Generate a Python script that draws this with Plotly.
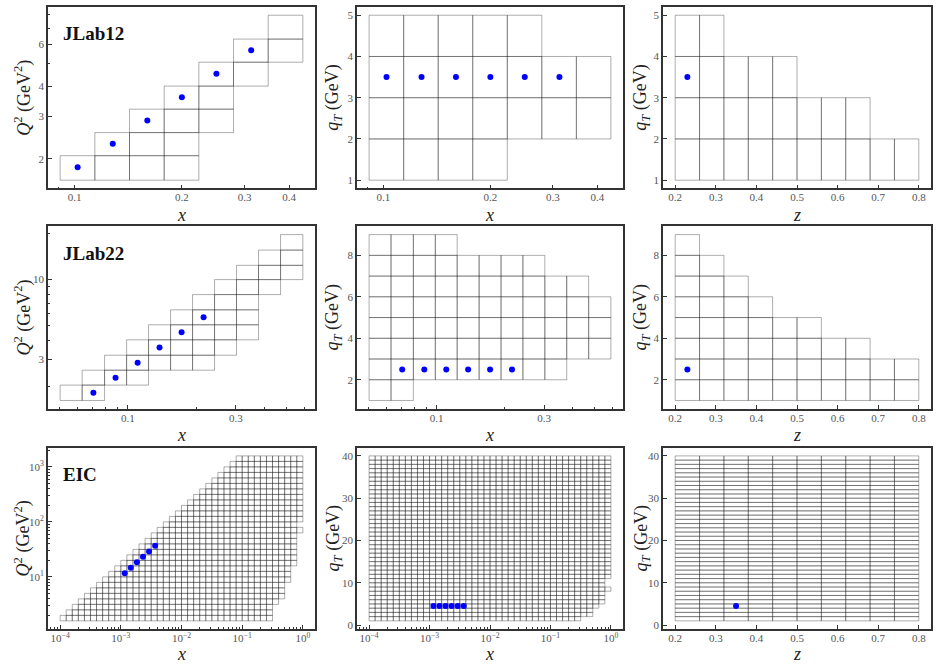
import math
import plotly.graph_objects as go

# ---------------- data ----------------
# JLab12
jl12_x_edges = [0.0911, 0.1140, 0.1426, 0.1784, 0.2232, 0.2792, 0.3493, 0.4370]
jl12_q2_edges = [1.626, 2.058, 2.570, 3.220, 4.020, 5.060, 6.320, 7.950]
jl12_qt_edges = [1, 2, 3, 4, 5]
z_edges = [0.20, 0.26, 0.32, 0.38, 0.44, 0.50, 0.56, 0.62, 0.68, 0.74, 0.80]
jl12_xq2_bottom = [0, 0, 0, 0, 2, 4, 5]
jl12_xq2_top = [1, 2, 3, 4, 5, 6, 7]
jl12_xqt_bottom = [0, 0, 0, 0, 1, 1, 1]
jl12_xqt_top = [4, 4, 4, 4, 4, 3, 3]
jl12_zqt_bottom = [0, 0, 0, 0, 0, 0, 0, 0, 0, 0]
jl12_zqt_top = [4, 4, 3, 3, 3, 2, 2, 2, 1, 1]
jl12_pts_x = [0.102, 0.128, 0.160, 0.200, 0.250, 0.313]
jl12_pts_q2 = [1.84, 2.31, 2.89, 3.61, 4.53, 5.67]
jl12_pts_qt = [3.5, 3.5, 3.5, 3.5, 3.5, 3.5]
jl12_pt_z = [0.23]
jl12_pt_zqt = [3.5]

# JLab22
jl22_x_edges = [0.0502, 0.0628, 0.0789, 0.0987, 0.1234, 0.1544, 0.1931, 0.2415,
                0.3020, 0.3777, 0.4726, 0.5930]
jl22_q2_edges = [1.618, 2.040, 2.554, 3.200, 4.036, 5.060, 6.340, 7.980,
                 10.00, 12.40, 15.60, 19.70]
jl22_qt_edges = [1, 2, 3, 4, 5, 6, 7, 8, 9]
jl22_xq2_bottom = [0, 0, 1, 1, 2, 2, 2, 3, 4, 7, 8]
jl22_xq2_top = [1, 2, 3, 4, 5, 6, 7, 8, 9, 10, 11]
jl22_xqt_bottom = [0, 0, 1, 1, 1, 1, 1, 1, 1, 2, 2]
jl22_xqt_top = [8, 8, 8, 8, 7, 7, 7, 7, 6, 6, 5]
jl22_zqt_bottom = [0, 0, 0, 0, 0, 0, 0, 0, 0, 0]
jl22_zqt_top = [8, 7, 6, 5, 4, 4, 3, 3, 2, 2]
jl22_pts_x = [0.0704, 0.0882, 0.1104, 0.1380, 0.1727, 0.2160]
jl22_pts_q2 = [1.817, 2.283, 2.859, 3.594, 4.519, 5.664]
jl22_pts_qt = [2.5, 2.5, 2.5, 2.5, 2.5, 2.5]
jl22_pt_z = [0.23]
jl22_pt_zqt = [2.5]

# EIC
eic_x_edges = [1.000e-4, 1.259e-4, 1.585e-4, 1.995e-4, 2.512e-4, 3.162e-4, 3.981e-4, 5.012e-4, 6.310e-4, 7.943e-4,
               1.000e-3, 1.259e-3, 1.585e-3, 1.995e-3, 2.512e-3, 3.162e-3, 3.981e-3, 5.012e-3, 6.310e-3, 7.943e-3,
               1.000e-2, 1.259e-2, 1.585e-2, 1.995e-2, 2.512e-2, 3.162e-2, 3.981e-2, 5.012e-2, 6.310e-2, 7.943e-2,
               1.000e-1, 1.259e-1, 1.585e-1, 1.995e-1, 2.512e-1, 3.162e-1, 3.981e-1, 5.012e-1, 6.310e-1, 7.943e-1,
               1.000]
eic_q2_edges = [1.585, 1.995, 2.512, 3.162, 3.981, 5.012, 6.310, 7.943, 10.00, 12.59,
                15.85, 19.95, 25.12, 31.62, 39.81, 50.12, 63.10, 79.43, 100.0, 125.9,
                158.5, 199.5, 251.2, 316.2, 398.1, 501.2, 631.0, 794.3, 1000.0, 1259.0,
                1585.0]
eic_qt_edges = [1, 2, 3, 4, 5, 6, 7, 8, 9, 10, 11, 12, 13, 14, 15, 16, 17, 18, 19, 20,
                21, 22, 23, 24, 25, 26, 27, 28, 29, 30, 31, 32, 33, 34, 35, 36, 37, 38, 39, 40]
eic_xq2_bottom = [0] * 35 + [3, 4, 7, 10, 16]
eic_xq2_top = [1, 2, 3, 4, 5, 6, 7, 8, 9, 10, 11, 12, 13, 14, 15, 16, 17, 18, 19, 20,
               21, 22, 23, 24, 25, 26, 27, 28, 29, 30, 30, 30, 30, 30, 30, 30, 30, 30, 30, 30]
eic_xq2_gaps = [(39, 17)]
eic_xqt_bottom = [0] * 35 + [1, 1, 3, 4, 7]
eic_xqt_top = [39] * 40
eic_xqt_gaps = [(39, 8), (39, 9)]
eic_zqt_bottom = [0] * 10
eic_zqt_top = [39] * 10
eic_pts_x = [1.16e-3, 1.46e-3, 1.84e-3, 2.32e-3, 2.92e-3, 3.68e-3]
eic_pts_q2 = [11.6, 14.7, 18.4, 23.3, 29.0, 36.8]
eic_pts_qt = [4.5, 4.5, 4.5, 4.5, 4.5, 4.5]
eic_pt_z = [0.35]
eic_pt_zqt = [4.5]

# tick labels
jl12_x_ticks = [0.1, 0.2, 0.3, 0.4]
jl12_q2_ticks = [2, 3, 4, 6]
jl22_x_ticks = [0.1, 0.3]
jl22_q2_ticks = [3, 10]
eic_x_ticks = [1e-4, 1e-3, 1e-2, 1e-1, 1]
eic_x_ticktext = ["10<sup>−4</sup>", "10<sup>−3</sup>", "10<sup>−2</sup>", "10<sup>−1</sup>", "10<sup>0</sup>"]
eic_q2_ticks = [10, 100, 1000]
eic_q2_ticktext = ["10<sup>1</sup>", "10<sup>2</sup>", "10<sup>3</sup>"]
z_ticks = [0.2, 0.3, 0.4, 0.5, 0.6, 0.7, 0.8]

def minor_log(lo, hi):
    vals = []
    for d in range(-5, 5):
        for m in range(1, 10):
            v = m * 10 ** d
            if lo <= v <= hi:
                vals.append(v)
    return vals

panels = [
    dict(xe=jl12_x_edges, ye=jl12_q2_edges, bot=jl12_xq2_bottom, top=jl12_xq2_top, gaps=[],
         xlog=True, ylog=True, px=jl12_pts_x, py=jl12_pts_q2,
         xt=jl12_x_ticks, xtt=None, yt=jl12_q2_ticks, ytt=None, label="JLab12", xtitle="<i>x</i>", ytitle="Q2"),
    dict(xe=jl12_x_edges, ye=jl12_qt_edges, bot=jl12_xqt_bottom, top=jl12_xqt_top, gaps=[],
         xlog=True, ylog=False, px=jl12_pts_x, py=jl12_pts_qt,
         xt=jl12_x_ticks, xtt=None, yt=[1, 2, 3, 4, 5], ytt=None, xtitle="<i>x</i>", ytitle="qT"),
    dict(xe=z_edges, ye=jl12_qt_edges, bot=jl12_zqt_bottom, top=jl12_zqt_top, gaps=[],
         xlog=False, ylog=False, px=jl12_pt_z, py=jl12_pt_zqt,
         xt=z_ticks, xtt=None, yt=[1, 2, 3, 4, 5], ytt=None, xtitle="<i>z</i>", ytitle="qT"),
    dict(xe=jl22_x_edges, ye=jl22_q2_edges, bot=jl22_xq2_bottom, top=jl22_xq2_top, gaps=[],
         xlog=True, ylog=True, px=jl22_pts_x, py=jl22_pts_q2,
         xt=jl22_x_ticks, xtt=None, yt=jl22_q2_ticks, ytt=None, label="JLab22", xtitle="<i>x</i>", ytitle="Q2"),
    dict(xe=jl22_x_edges, ye=jl22_qt_edges, bot=jl22_xqt_bottom, top=jl22_xqt_top, gaps=[],
         xlog=True, ylog=False, px=jl22_pts_x, py=jl22_pts_qt,
         xt=jl22_x_ticks, xtt=None, yt=[2, 4, 6, 8], ytt=None, xtitle="<i>x</i>", ytitle="qT"),
    dict(xe=z_edges, ye=jl22_qt_edges, bot=jl22_zqt_bottom, top=jl22_zqt_top, gaps=[],
         xlog=False, ylog=False, px=jl22_pt_z, py=jl22_pt_zqt,
         xt=z_ticks, xtt=None, yt=[2, 4, 6, 8], ytt=None, xtitle="<i>z</i>", ytitle="qT"),
    dict(xe=eic_x_edges, ye=eic_q2_edges, bot=eic_xq2_bottom, top=eic_xq2_top, gaps=eic_xq2_gaps,
         xlog=True, ylog=True, px=eic_pts_x, py=eic_pts_q2,
         xt=eic_x_ticks, xtt=eic_x_ticktext, yt=eic_q2_ticks, ytt=eic_q2_ticktext, label="EIC",
         xtitle="<i>x</i>", ytitle="Q2"),
    dict(xe=eic_x_edges, ye=eic_qt_edges, bot=eic_xqt_bottom, top=eic_xqt_top, gaps=eic_xqt_gaps,
         xlog=True, ylog=False, px=eic_pts_x, py=eic_pts_qt,
         xt=eic_x_ticks, xtt=eic_x_ticktext, yt=[0, 10, 20, 30, 40], ytt=None, xtitle="<i>x</i>", ytitle="qT"),
    dict(xe=z_edges, ye=eic_qt_edges, bot=eic_zqt_bottom, top=eic_zqt_top, gaps=[],
         xlog=False, ylog=False, px=eic_pt_z, py=eic_pt_zqt,
         xt=z_ticks, xtt=None, yt=[0, 10, 20, 30, 40], ytt=None, xtitle="<i>z</i>", ytitle="qT"),
]

# ---------------- layout geometry ----------------
W, H = 938, 667
COL_PX = [(48, 315), (357, 623), (663, 931)]
ROW_PX = [(7, 189), (227, 410), (449, 631)]
XTITLE_Y = [216, 436, 656]
YTITLE_X = [23, 334, 642]

LINE = "rgba(0,0,0,0.32)"
FRAME = "#333333"
SERIF = "Liberation Serif"

def rng(vals, log):
    lo, hi = min(vals), max(vals)
    if log:
        lo, hi = math.log10(lo), math.log10(hi)
    pad = 0.05 * (hi - lo)
    return [lo - pad, hi + pad]

fig = go.Figure()
layout = dict(width=W, height=H, margin=dict(l=0, r=0, t=0, b=0),
              paper_bgcolor="white", plot_bgcolor="white", showlegend=False)
annotations = []

for i, p in enumerate(panels):
    r, c = divmod(i, 3)
    xn = "x" if i == 0 else f"x{i+1}"
    yn = "y" if i == 0 else f"y{i+1}"
    # cell rectangles, split into 4 parity groups so shared edges overlap
    groups = {(a, b): ([], []) for a in (0, 1) for b in (0, 1)}
    xe, ye = p["xe"], p["ye"]
    for ci in range(len(p["bot"])):
        for ri in range(p["bot"][ci], p["top"][ci]):
            if (ci, ri) in p["gaps"]:
                continue
            xs, ys = groups[(ci % 2, ri % 2)]
            x0, x1, y0, y1 = xe[ci], xe[ci + 1], ye[ri], ye[ri + 1]
            xs += [x0, x1, x1, x0, x0, None]
            ys += [y0, y0, y1, y1, y0, None]
    for (xs, ys) in groups.values():
        if xs:
            fig.add_trace(go.Scatter(x=xs, y=ys, mode="lines", xaxis=xn, yaxis=yn,
                                     line=dict(color=LINE, width=1), hoverinfo="skip",
                                     connectgaps=False))
    fig.add_trace(go.Scatter(x=p["px"], y=p["py"], mode="markers", xaxis=xn, yaxis=yn,
                             marker=dict(color="#0000ff", size=6, line=dict(width=0))))

    xr = rng(xe, p["xlog"])
    yr = rng(ye, p["ylog"])
    common = dict(showline=True, linecolor=FRAME, linewidth=1.7, mirror=True,
                  ticks="inside", ticklen=4, tickwidth=1, tickcolor=FRAME,
                  showgrid=False, zeroline=False,
                  tickfont=dict(family=SERIF, size=11, color="#555555"))
    xax = dict(domain=[COL_PX[c][0] / W, COL_PX[c][1] / W], anchor=yn,
               type="log" if p["xlog"] else "linear", range=xr,
               tickmode="array", tickvals=p["xt"], ticklabelstandoff=-2, **common)
    if p["xtt"]:
        xax["ticktext"] = p["xtt"]
    if p["xlog"]:
        xax["minor"] = dict(tickmode="array",
                            tickvals=[v for v in minor_log(10 ** xr[0], 10 ** xr[1]) if v not in p["xt"]],
                            ticks="inside", ticklen=2, tickcolor=FRAME, showgrid=False)
    yax = dict(domain=[1 - ROW_PX[r][1] / H, 1 - ROW_PX[r][0] / H], anchor=xn,
               type="log" if p["ylog"] else "linear", range=yr,
               tickmode="array", tickvals=p["yt"], **common)
    if p["ytt"]:
        yax["ticktext"] = p["ytt"]
    if p["ylog"]:
        yax["minor"] = dict(tickmode="array",
                            tickvals=[v for v in minor_log(10 ** yr[0], 10 ** yr[1]) if v not in p["yt"]],
                            ticks="inside", ticklen=2, tickcolor=FRAME, showgrid=False)
    layout["xaxis" if i == 0 else f"xaxis{i+1}"] = xax
    layout["yaxis" if i == 0 else f"yaxis{i+1}"] = yax

    # axis titles
    cx = (COL_PX[c][0] + COL_PX[c][1]) / 2 / W
    annotations.append(dict(text=p["xtitle"], xref="paper", yref="paper",
                            x=cx, y=1 - XTITLE_Y[r] / H, showarrow=False,
                            xanchor="center", yanchor="middle",
                            font=dict(family=SERIF, size=18, color="#222222")))
    ytxt = "<i>Q</i><sup>2</sup> (GeV<sup>2</sup>)" if p["ytitle"] == "Q2" else "<i>q<sub>T</sub></i> (GeV)"
    cy = 1 - (ROW_PX[r][0] + ROW_PX[r][1]) / 2 / H
    annotations.append(dict(text=ytxt, xref="paper", yref="paper",
                            x=YTITLE_X[c] / W, y=cy, showarrow=False, textangle=-90,
                            xanchor="center", yanchor="middle",
                            font=dict(family=SERIF, size=18, color="#222222")))
    if p.get("label"):
        annotations.append(dict(text="<b>" + p["label"] + "</b>", xref="paper", yref="paper",
                                x=61 / W, y=1 - (ROW_PX[r][0] + 27) / H, showarrow=False,
                                xanchor="left", yanchor="middle",
                                font=dict(family=SERIF, size=19, color="#111111")))

layout["annotations"] = annotations
fig.update_layout(**layout)
fig.write_html("out.html")
